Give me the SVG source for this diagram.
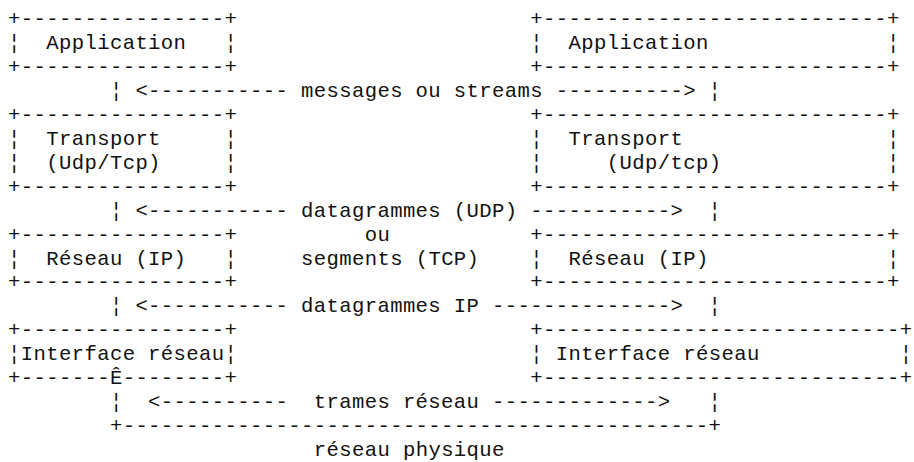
<svg xmlns="http://www.w3.org/2000/svg" width="914" height="462" viewBox="0 0 914 462">
<style>
text{font-family:"Liberation Mono","DejaVu Sans Mono",monospace;font-size:20.6px;letter-spacing:0.38px;fill:#111;white-space:pre}
</style>
<rect width="914" height="462" fill="#fff"/>
<g id="app-left">
<text x="8" y="25" xml:space="preserve">+----------------+</text>
<text x="8" y="48.95" xml:space="preserve">¦  Application   ¦</text>
<text x="8" y="72.9" xml:space="preserve">+----------------+</text>
</g>
<g id="app-right">
<text x="530.34" y="25" xml:space="preserve">+---------------------------+</text>
<text x="530.34" y="48.95" xml:space="preserve">¦  Application              ¦</text>
<text x="530.34" y="72.9" xml:space="preserve">+---------------------------+</text>
</g>
<g id="transport-left">
<text x="8" y="120.8" xml:space="preserve">+----------------+</text>
<text x="8" y="144.75" xml:space="preserve">¦  Transport     ¦</text>
<text x="8" y="168.7" xml:space="preserve">¦  (Udp/Tcp)     ¦</text>
<text x="8" y="192.65" xml:space="preserve">+----------------+</text>
</g>
<g id="transport-right">
<text x="530.34" y="120.8" xml:space="preserve">+---------------------------+</text>
<text x="530.34" y="144.75" xml:space="preserve">¦  Transport                ¦</text>
<text x="530.34" y="168.7" xml:space="preserve">¦     (Udp/tcp)             ¦</text>
<text x="530.34" y="192.65" xml:space="preserve">+---------------------------+</text>
</g>
<g id="reseau-left">
<text x="8" y="240.55" xml:space="preserve">+----------------+</text>
<text x="8" y="264.5" xml:space="preserve">¦  Réseau (IP)   ¦</text>
<text x="8" y="288.45" xml:space="preserve">+----------------+</text>
</g>
<g id="reseau-right">
<text x="530.34" y="240.55" xml:space="preserve">+---------------------------+</text>
<text x="530.34" y="264.5" xml:space="preserve">¦  Réseau (IP)              ¦</text>
<text x="530.34" y="288.45" xml:space="preserve">+---------------------------+</text>
</g>
<g id="interface-left">
<text x="8" y="336.35" xml:space="preserve">+----------------+</text>
<text x="8" y="360.3" xml:space="preserve">¦Interface réseau¦</text>
<text x="8" y="384.25" xml:space="preserve">+-------Ê--------+</text>
</g>
<g id="interface-right">
<text x="530.34" y="336.35" xml:space="preserve">+----------------------------+</text>
<text x="530.34" y="360.3" xml:space="preserve">¦ Interface réseau           ¦</text>
<text x="530.34" y="384.25" xml:space="preserve">+----------------------------+</text>
</g>
<g id="connectors">
<text x="109.92" y="96.85" xml:space="preserve">¦ &lt;----------- messages ou streams ----------&gt; ¦</text>
<text x="109.92" y="216.6" xml:space="preserve">¦ &lt;----------- datagrammes (UDP) -----------&gt;  ¦</text>
<text x="364.72" y="240.55" xml:space="preserve">ou</text>
<text x="301.02" y="264.5" xml:space="preserve">segments (TCP)</text>
<text x="109.92" y="312.4" xml:space="preserve">¦ &lt;----------- datagrammes IP --------------&gt;  ¦</text>
<text x="109.92" y="408.2" xml:space="preserve">¦  &lt;----------  trames réseau -------------&gt;   ¦</text>
<text x="109.92" y="432.15" xml:space="preserve">+----------------------------------------------+</text>
<text x="313.76" y="456.1" xml:space="preserve">réseau physique</text>
</g>
</svg>
